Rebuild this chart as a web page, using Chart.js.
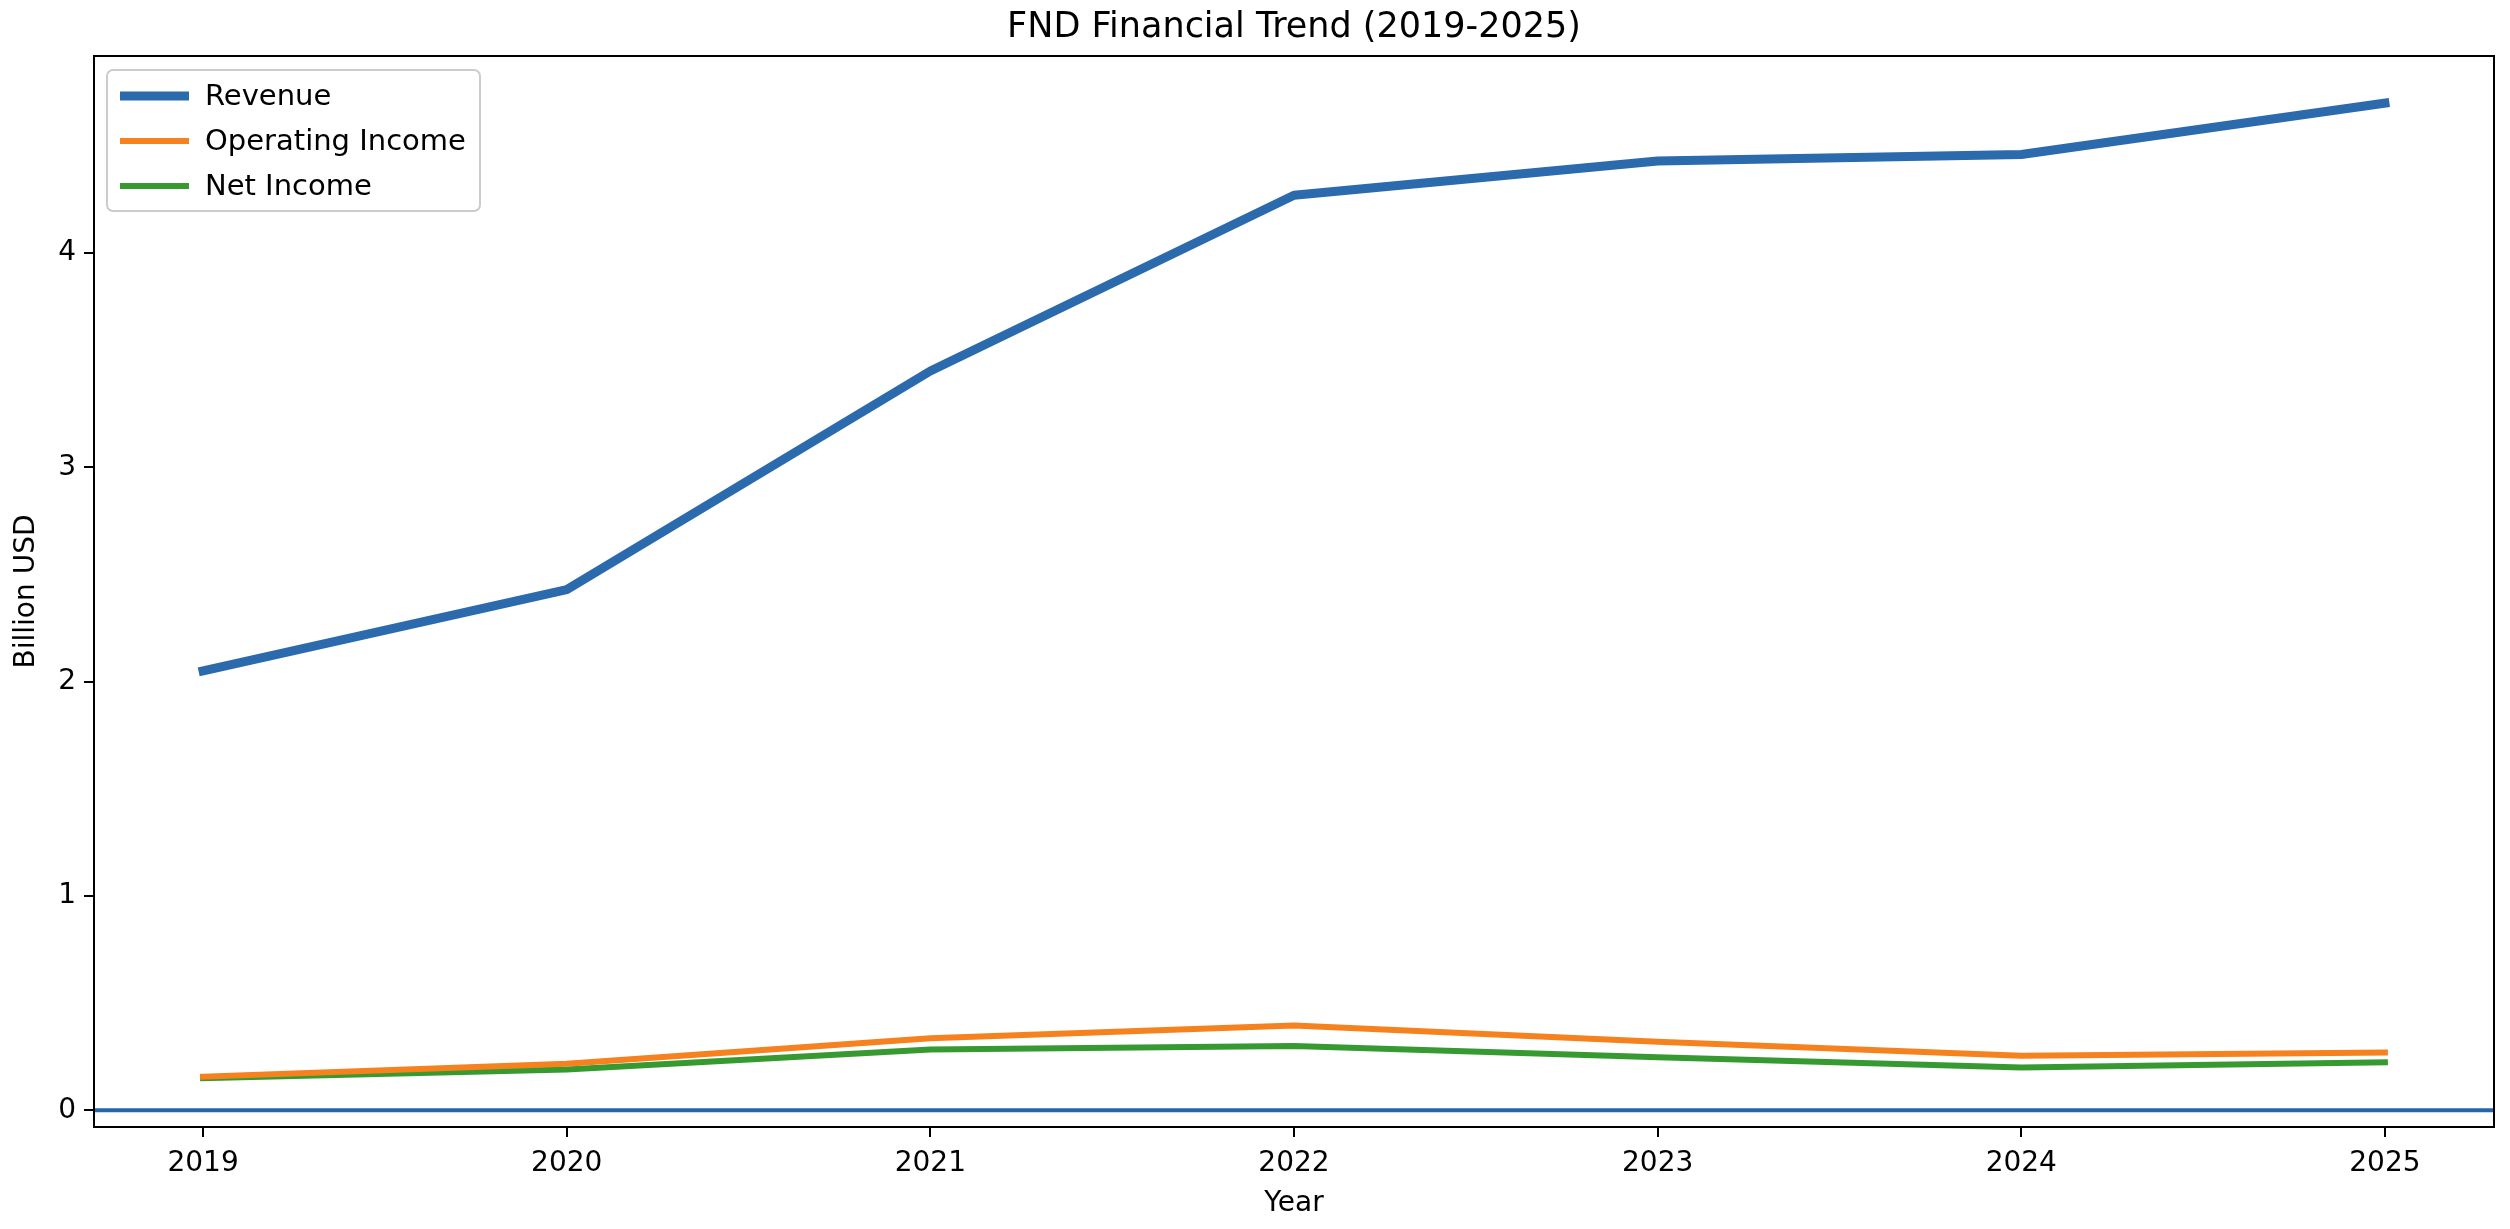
<!DOCTYPE html>
<html lang="en">
<head>
    <meta charset="UTF-8">
    <title>FND Financial Trend</title>
    <script src="https://cdn.jsdelivr.net/npm/chart.js@4.4.1/dist/chart.umd.min.js"></script>
    <style>
        html, body { margin: 0; padding: 0; background: #fff; }
        .divGrafico { width: 2510px; height: 1229px; }
    </style>
</head>
<body>
    <div class="divGrafico">
        <canvas id="grafico" width="2510" height="1229"></canvas>
    </div>

    <script>
        // dados
        const anos = [2019, 2020, 2021, 2022, 2023, 2024, 2025];
        const receita = [2.05, 2.43, 3.45, 4.27, 4.43, 4.46, 4.70];
        const lucroOperacional = [0.157, 0.217, 0.336, 0.396, 0.32, 0.254, 0.27];
        const lucroLiquido = [0.15, 0.19, 0.284, 0.30, 0.247, 0.20, 0.224];
        const ticksY = [0, 1, 2, 3, 4];
        const linhaBase = 0;
        const titulo = 'FND Financial Trend (2019-2025)';

        const fonte = "'DejaVu Sans', sans-serif";

        function pontos(valores) {
            return anos.map((a, i) => ({ x: a, y: valores[i] }));
        }

        // titulo centrado no grafico, caixa em volta, linha em zero e legenda dentro
        const extras = {
            id: 'extras',
            beforeDatasetsDraw(chart) {
                const ctx = chart.ctx;
                const area = chart.chartArea;
                const y0 = chart.scales.y.getPixelForValue(linhaBase);
                ctx.save();
                ctx.strokeStyle = '#2566a8';
                ctx.lineWidth = 4;
                ctx.beginPath();
                ctx.moveTo(area.left, y0);
                ctx.lineTo(area.right, y0);
                ctx.stroke();
                ctx.restore();
            },
            afterDraw(chart) {
                const ctx = chart.ctx;
                const area = chart.chartArea;
                ctx.save();
                ctx.fillStyle = '#000';
                ctx.font = '35px ' + fonte;
                ctx.textAlign = 'center';
                ctx.textBaseline = 'middle';
                ctx.fillText(titulo, (area.left + area.right) / 2, 28);

                ctx.strokeStyle = '#000';
                ctx.lineWidth = 2;
                ctx.strokeRect(area.left, area.top, area.right - area.left, area.bottom - area.top);

                // legenda
                const x = area.left + 13, y = area.top + 14, w = 373, h = 141;
                ctx.fillStyle = 'rgba(255,255,255,0.8)';
                ctx.strokeStyle = '#cccccc';
                ctx.lineWidth = 2;
                ctx.beginPath();
                ctx.roundRect(x, y, w, h, 6);
                ctx.fill();
                ctx.stroke();

                ctx.font = '29px ' + fonte;
                ctx.textBaseline = 'middle';
                ctx.textAlign = 'left';
                chart.data.datasets.forEach((ds, i) => {
                    const ly = y + 26 + i * 45;
                    ctx.strokeStyle = ds.borderColor;
                    ctx.lineWidth = ds.borderWidth;
                    ctx.beginPath();
                    ctx.moveTo(x + 13, ly);
                    ctx.lineTo(x + 82, ly);
                    ctx.stroke();
                    ctx.fillStyle = '#000';
                    ctx.fillText(ds.label, x + 98, ly + 1);
                });
                ctx.restore();
            }
        };

        const grafico = new Chart(document.getElementById('grafico'), {
            type: 'line',
            data: {
                datasets: [{
                    label: 'Revenue',
                    data: pontos(receita),
                    borderColor: '#2a6aad',
                    borderWidth: 9
                }, {
                    label: 'Operating Income',
                    data: pontos(lucroOperacional),
                    borderColor: '#f5821f',
                    borderWidth: 6
                }, {
                    label: 'Net Income',
                    data: pontos(lucroLiquido),
                    borderColor: '#379a31',
                    borderWidth: 6
                }]
            },
            options: {
                responsive: false,
                animation: false,
                devicePixelRatio: 1,
                elements: {
                    line: { tension: 0, borderCapStyle: 'square', borderJoinStyle: 'round' },
                    point: { radius: 0, hoverRadius: 0 }
                },
                layout: { padding: { left: 0, right: 16, top: 56, bottom: 0 } },
                plugins: {
                    legend: { display: false },
                    tooltip: { enabled: false },
                    title: { display: false }
                },
                scales: {
                    x: {
                        type: 'linear',
                        min: 2018.7,
                        max: 2025.3,
                        afterBuildTicks: (s) => { s.ticks = anos.map(v => ({ value: v })); },
                        afterFit: (s) => { s.height = 102; },
                        ticks: {
                            color: '#000',
                            font: { family: fonte, size: 28 },
                            padding: 10,
                            maxRotation: 0,
                            autoSkip: false,
                            callback: (v) => String(v)
                        },
                        grid: { drawOnChartArea: false, drawTicks: true, tickLength: 10, color: '#000', lineWidth: 2 },
                        border: { display: true, color: '#000', width: 2 },
                        title: {
                            display: true,
                            text: 'Year',
                            color: '#000',
                            font: { family: fonte, size: 28, lineHeight: 1.2 },
                            padding: { top: 0, bottom: 8 }
                        }
                    },
                    y: {
                        type: 'linear',
                        min: -0.078,
                        max: 4.92,
                        afterBuildTicks: (s) => { s.ticks = ticksY.map(v => ({ value: v })); },
                        afterFit: (s) => { s.width = 94; },
                        ticks: {
                            color: '#000',
                            font: { family: fonte, size: 28 },
                            padding: 8
                        },
                        grid: { drawOnChartArea: false, drawTicks: true, tickLength: 10, color: '#000', lineWidth: 2 },
                        border: { display: true, color: '#000', width: 2 },
                        title: {
                            display: true,
                            text: 'Billion USD',
                            color: '#000',
                            font: { family: fonte, size: 28, lineHeight: 1.2 },
                            padding: { top: 10, bottom: 0 }
                        }
                    }
                }
            },
            plugins: [extras]
        });
    </script>
</body>
</html>
